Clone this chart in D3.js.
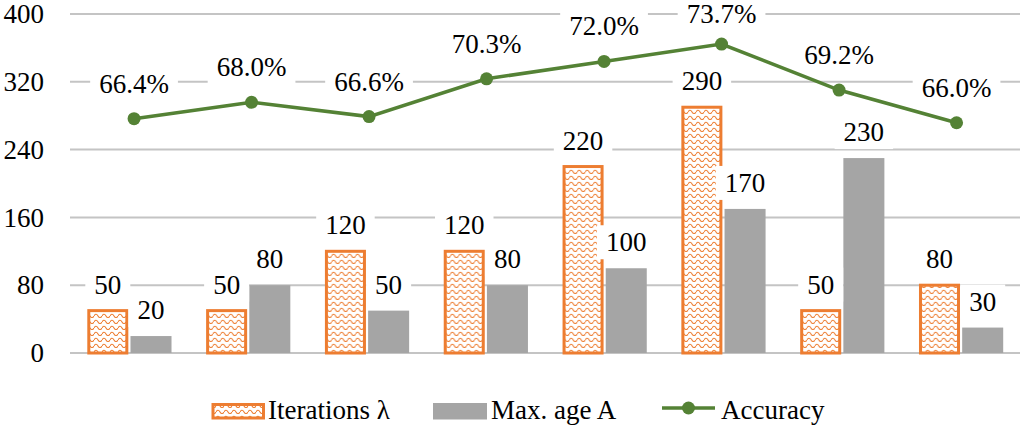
<!DOCTYPE html>
<html>
<head>
<meta charset="utf-8">
<script src="https://cdn.jsdelivr.net/npm/d3@7"></script>
<style>
  body { margin: 0; background: #fff; }
</style>
</head>
<body>
<svg width="1025" height="425"></svg>
<script>
// data
var groups     = ["g1", "g2", "g3", "g4", "g5", "g6", "g7", "g8"];
var iterations = [50, 50, 120, 120, 220, 290, 50, 80];
var maxAge     = [20, 80, 50, 80, 100, 170, 230, 30];
var accuracy   = [66.4, 68.0, 66.6, 70.3, 72.0, 73.7, 69.2, 66.0];
var yTicks     = [0, 80, 160, 240, 320, 400];
var seriesNames = ["Iterations \u03bb", "Max. age A", "Accuracy"];

var orange = "#ED7D31", grey = "#A5A5A5", green = "#548235", gridCol = "#C4C4C4";
var fontSize = 27;
var serif = "Liberation Serif";

var svg = d3.select("svg");

var y = d3.scaleLinear().domain([0, 400]).range([353, 14]);
var yAcc = d3.scaleLinear().domain([43.47, 76.64]).range([353, 14]);   // hidden secondary axis

var x0 = d3.scaleBand().domain(groups).range([70, 1020.5]);
var x1 = d3.scaleBand().domain(["it", "age"])
    .range([17.3, x0.bandwidth() - 17.3])
    .paddingInner(0.05);
var xLine = d3.scalePoint().domain(groups).range([75.3, 1015.3]).padding(0.5);

// wavy hatch pattern
var defs = svg.append("defs");
var pat = defs.append("pattern")
    .attr("id", "wave")
    .attr("patternUnits", "userSpaceOnUse")
    .attr("width", 8).attr("height", 6);
pat.append("rect").attr("width", 8).attr("height", 6).attr("fill", "#fff");
pat.append("path")
    .attr("d", "M0,4 Q2,0.5 4,4 T8,4")
    .attr("fill", "none")
    .attr("stroke", orange)
    .attr("stroke-width", 1.1);

// gridlines
svg.append("g")
  .selectAll("line")
  .data(yTicks)
  .enter()
  .append("line")
    .attr("x1", 70).attr("x2", 1020)
    .attr("y1", function(d) { return y(d); })
    .attr("y2", function(d) { return y(d); })
    .attr("stroke", gridCol)
    .attr("stroke-width", 2);

// y tick labels
svg.append("g")
  .selectAll("text")
  .data(yTicks)
  .enter()
  .append("text")
    .attr("x", 44)
    .attr("y", function(d) { return y(d); })
    .attr("dy", "0.34em")
    .attr("text-anchor", "end")
    .attr("font-family", serif)
    .attr("font-size", fontSize)
    .text(function(d) { return d; });

// bars
var grp = svg.append("g")
  .selectAll("g")
  .data(groups)
  .enter()
  .append("g")
    .attr("transform", function(d) { return "translate(" + x0(d) + ",0)"; });

grp.append("rect")
    .attr("x", x1("age"))
    .attr("width", x1.bandwidth())
    .attr("y", function(d, i) { return y(maxAge[i]); })
    .attr("height", function(d, i) { return y(0) - y(maxAge[i]); })
    .attr("fill", grey);

grp.append("rect")
    .attr("x", x1("it") + 1.5)
    .attr("width", x1.bandwidth() - 3)
    .attr("y", function(d, i) { return y(iterations[i]); })
    .attr("height", function(d, i) { return y(0) - y(iterations[i]); })
    .attr("fill", "url(#wave)")
    .attr("stroke", orange)
    .attr("stroke-width", 3);

// labels with white box behind (hides gridline like the original)
var labelLayer = svg.append("g");
function label(cx, baseline, txt) {
  var g = labelLayer.append("g");
  var bg = g.append("rect").attr("fill", "#fff");
  var t = g.append("text")
      .attr("x", cx).attr("y", baseline)
      .attr("text-anchor", "middle")
      .attr("font-family", serif)
      .attr("font-size", fontSize)
      .text(txt);
  var b = t.node().getBBox();
  bg.attr("x", b.x - 9).attr("y", b.y - 2)
    .attr("width", b.width + 18).attr("height", b.height + 4);
}

groups.forEach(function(g, i) {
  label(x0(g) + x1("it") + x1.bandwidth() / 2, y(iterations[i]) - 17, iterations[i]);
  label(x0(g) + x1("age") + x1.bandwidth() / 2, y(maxAge[i]) - 17, maxAge[i]);
});

// accuracy line
var line = d3.line()
    .x(function(d, i) { return xLine(groups[i]); })
    .y(function(d) { return yAcc(d); });

svg.append("path")
    .datum(accuracy)
    .attr("d", line)
    .attr("fill", "none")
    .attr("stroke", green)
    .attr("stroke-width", 3.5);

svg.append("g")
  .selectAll("circle")
  .data(accuracy)
  .enter()
  .append("circle")
    .attr("cx", function(d, i) { return xLine(groups[i]); })
    .attr("cy", function(d) { return yAcc(d); })
    .attr("r", 6.5)
    .attr("fill", green);

accuracy.forEach(function(v, i) {
  label(xLine(groups[i]), Math.max(yAcc(v) - 26, 23), v.toFixed(1) + "%");
});

// legend
var leg = svg.append("g");
leg.append("rect")
    .attr("x", 213).attr("y", 404.5).attr("width", 50.5).attr("height", 13.5)
    .attr("fill", "url(#wave)").attr("stroke", orange).attr("stroke-width", 3);
leg.append("text").attr("x", 268).attr("y", 419)
    .attr("font-family", serif)
    .attr("font-size", fontSize).text(seriesNames[0]);

leg.append("rect")
    .attr("x", 433).attr("y", 403).attr("width", 54).attr("height", 16.5)
    .attr("fill", grey);
leg.append("text").attr("x", 491).attr("y", 419)
    .attr("font-family", serif)
    .attr("font-size", fontSize).text(seriesNames[1]);

leg.append("line")
    .attr("x1", 662).attr("x2", 715).attr("y1", 408).attr("y2", 408)
    .attr("stroke", green).attr("stroke-width", 3.5);
leg.append("circle").attr("cx", 688.5).attr("cy", 408).attr("r", 6.5).attr("fill", green);
leg.append("text").attr("x", 721).attr("y", 419)
    .attr("font-family", serif)
    .attr("font-size", fontSize).text(seriesNames[2]);
</script>
</body>
</html>
